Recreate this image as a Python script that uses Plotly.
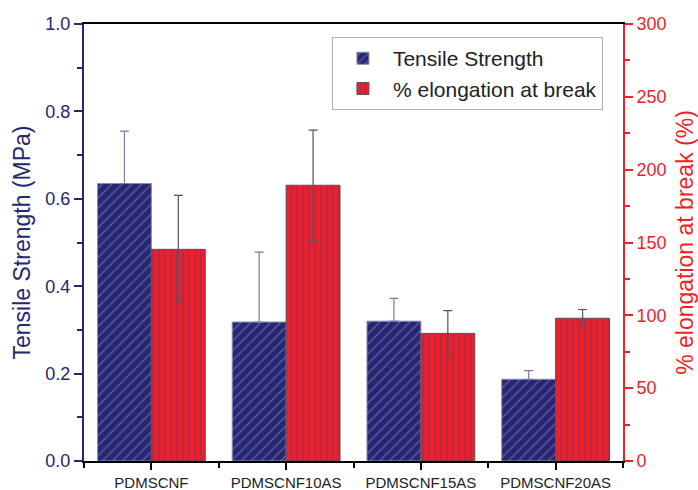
import plotly.graph_objects as go

categories = ["PDMSCNF", "PDMSCNF10AS", "PDMSCNF15AS", "PDMSCNF20AS"]
tensile = [0.635, 0.318, 0.320, 0.187]
tensile_err = [0.120, 0.160, 0.052, 0.020]
elong = [145.3, 189.3, 87.6, 98.0]
elong_err = [37.0, 37.8, 15.7, 6.0]

NAVY = "#262672"
RED = "#ee1f26"
FONT = "Liberation Sans, Arial, sans-serif"

xpos = list(range(len(categories)))

fig = go.Figure()
fig.add_trace(go.Bar(
    x=xpos, y=tensile, name="Tensile Strength", offsetgroup="a",
    marker=dict(color=NAVY, line=dict(color="#8a8ab8", width=1),
                pattern=dict(shape="/", fgcolor="#9090c4", size=7, solidity=0.22, fillmode="overlay")),
    error_y=dict(type="data", array=tensile_err, arrayminus=[0]*len(tensile_err),
                 color="#7a7ab0", thickness=1.2, width=4.5),
))
fig.add_trace(go.Bar(
    x=xpos, y=elong, name="% elongation at break", offsetgroup="b", yaxis="y2",
    marker=dict(color=RED, line=dict(color="#555055", width=1),
                pattern=dict(shape="|", fgcolor="#5a3a8a", size=6, solidity=0.25, fillmode="overlay")),
    error_y=dict(type="data", array=elong_err, color="#555555", thickness=1.2, width=4.5),
))

fig.update_layout(
    width=698, height=490,
    margin=dict(l=84, r=75, t=24, b=29, autoexpand=False),
    paper_bgcolor="white", plot_bgcolor="white",
    barmode="group", bargap=0.2, bargroupgap=0,
    font=dict(family=FONT),
    showlegend=True,
    legend=dict(x=0.46, y=0.97, xanchor="left", yanchor="top",
                bordercolor="#b0b0b0", borderwidth=1, bgcolor="white",
                font=dict(size=21, color="#222222", family=FONT),
                tracegroupgap=0, itemwidth=50),
    xaxis=dict(
        range=[-0.5, len(categories) - 0.5], automargin=False,
        tickmode="array", tickvals=xpos, ticktext=categories,
        tickfont=dict(size=15, color="#222222"),
        showline=True, linecolor="black", linewidth=2, mirror=True,
        ticks="outside", ticklen=7, tickwidth=2, tickcolor="black",
        minor=dict(tick0=0.5, dtick=1, ticks="outside", ticklen=5, tickwidth=2, tickcolor="black"),
        showgrid=False, zeroline=False,
    ),
    yaxis=dict(
        range=[0, 1.0], automargin=False, tickvals=[0, 0.2, 0.4, 0.6, 0.8, 1.0],
        ticktext=["0.0", "0.2", "0.4", "0.6", "0.8", "1.0"],
        tickfont=dict(size=18, color=NAVY),
        title=dict(text="Tensile Strength (MPa)", font=dict(size=23, color=NAVY), standoff=8),
        showline=True, linecolor=NAVY, linewidth=2,
        ticks="outside", ticklen=8, tickwidth=2, tickcolor=NAVY,
        minor=dict(dtick=0.1, ticks="outside", ticklen=5, tickwidth=2, tickcolor=NAVY),
        showgrid=False, zeroline=False,
    ),
    yaxis2=dict(
        range=[0, 300], automargin=False, tickvals=[0, 50, 100, 150, 200, 250, 300],
        overlaying="y", side="right",
        tickfont=dict(size=18, color=RED),
        title=dict(text="% elongation at break (%)", font=dict(size=23, color=RED), standoff=14),
        showline=True, linecolor=RED, linewidth=2,
        ticks="outside", ticklen=8, tickwidth=2, tickcolor=RED,
        minor=dict(dtick=25, ticks="outside", ticklen=5, tickwidth=2, tickcolor=RED),
        showgrid=False, zeroline=False,
    ),
)

fig.write_html("out.html", config={"displayModeBar": False},
               post_script="document.body.style.margin='0';document.body.style.overflow='hidden';")
